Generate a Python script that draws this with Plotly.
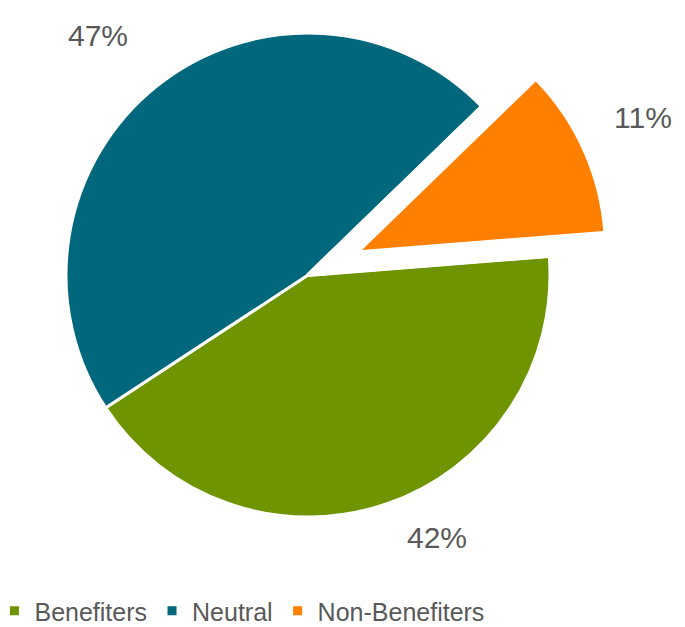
import plotly.graph_objects as go

labels = ["Benefiters", "Neutral", "Non-Benefiters"]
values = [42, 47, 11]
colors = ["#6E9400", "#00677C", "#FF7F00"]

CLEAR = "rgba(0,0,0,0)"
TXT = "#595959"
W, H = 677, 619   # page body adds an 8px margin
PH = 560          # plot-area height; legend sits in the bottom margin

dom_main = dict(x=[58 / W, 542 / W], y=[51 / PH, 535 / PH])
dom_pull = dict(x=[112 / W, 596 / W], y=[76 / PH, 1.0])
common = dict(labels=labels, values=values, sort=False, direction="clockwise",
              rotation=85.5, hoverinfo="none", textinfo="none")

pie_a = go.Pie(
    **common,
    marker=dict(colors=colors, line=dict(color="white", width=3)),
    domain=dom_main, showlegend=True,
)
pie_b = go.Pie(
    **common,
    marker=dict(colors=[CLEAR, CLEAR, "white"], line=dict(color=[CLEAR, CLEAR, "white"], width=4)),
    domain=dom_main, showlegend=False,
)
pie_c = go.Pie(
    **common,
    marker=dict(colors=[CLEAR, CLEAR, colors[2]], line=dict(color=CLEAR, width=0)),
    domain=dom_pull, showlegend=False,
)

fig = go.Figure([pie_a, pie_b, pie_c])

total = sum(values)
label_pos = [(429, 529), (90, 27), (635, 110)]  # label centres, px from top-left of figure
for v, (px, py) in zip(values, label_pos):
    fig.add_annotation(
        text=f"{round(v / total * 100)}%", x=px / W, y=(PH - py) / PH,
        xref="paper", yref="paper", xanchor="center", yanchor="middle",
        showarrow=False, font=dict(family="Liberation Sans, Arial", size=30, color=TXT),
    )

fig.update_layout(
    width=W, height=H,
    margin=dict(l=0, r=0, t=0, b=H - PH, autoexpand=False),
    paper_bgcolor="white", plot_bgcolor="white",
    legend=dict(
        orientation="h", x=-0.02, xanchor="left", y=-20 / PH, yanchor="top",
        font=dict(family="Liberation Sans, Arial", size=25, color=TXT),
        itemwidth=30, traceorder="normal",
    ),
)
fig.write_html("out.html")
